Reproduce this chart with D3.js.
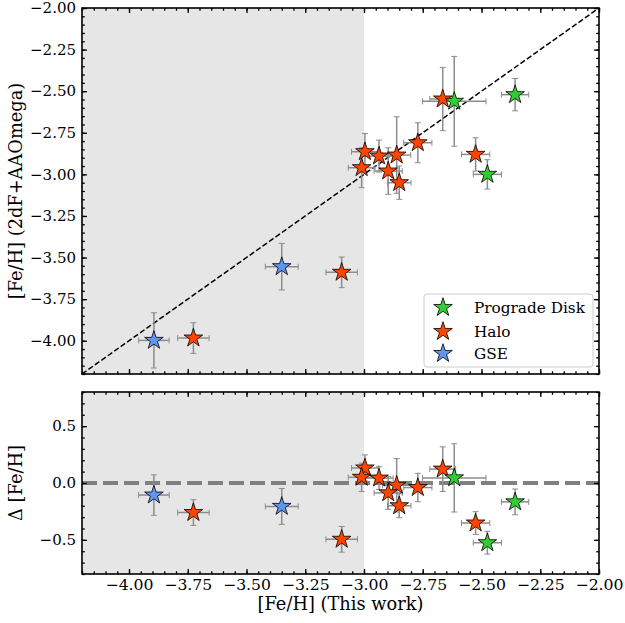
<!DOCTYPE html>
<html>
<head>
<meta charset="utf-8">
<script src="https://cdn.jsdelivr.net/npm/d3@7"></script>
<style>
  body { margin: 0; background: white; }
  text { font-family: "DejaVu Serif", serif; font-size: 15.3px; fill: black; }
</style>
</head>
<body>
<script>
// data
var groups = ["Prograde Disk", "Halo", "GSE"];
var groupColors = ["#32cd32", "#ff4500", "#6495ed"];

var pointGroup = ["Halo","Halo","Halo","Halo","Halo","Halo","Halo","Halo","Halo","Halo","Halo",
                  "GSE","GSE",
                  "Prograde Disk","Prograde Disk","Prograde Disk"];
var xThis   = [-2.665,-2.771,-2.996,-2.936,-2.861,-3.010,-2.897,-2.850,-2.525,-3.726,-3.095, -3.894,-3.350, -2.616,-2.357,-2.475];
var xErr    = [ 0.055, 0.060, 0.057, 0.060, 0.060, 0.057, 0.060, 0.050, 0.060, 0.067, 0.067,  0.065, 0.070,  0.135, 0.058, 0.060];
var yAAO    = [-2.547,-2.810,-2.864,-2.890,-2.884,-2.960,-2.980,-3.050,-2.880,-3.984,-3.589, -3.998,-3.555, -2.561,-2.521,-3.000];
var yErr    = [ 0.190, 0.120, 0.110, 0.096, 0.230, 0.120, 0.140, 0.100, 0.100, 0.092, 0.092,  0.166, 0.140,  0.270, 0.097, 0.088];
var delta   = [ 0.122,-0.040, 0.132, 0.043,-0.020, 0.050,-0.087,-0.200,-0.352,-0.260,-0.495, -0.106,-0.206,  0.045,-0.166,-0.525];
var deltaErr= [ 0.196, 0.125, 0.115, 0.100, 0.235, 0.125, 0.145, 0.105, 0.100, 0.113, 0.113,  0.178, 0.158,  0.300, 0.113, 0.100];

var xTicks = [-4.0,-3.75,-3.5,-3.25,-3.0,-2.75,-2.5,-2.25,-2.0];
var yTopTicks = [-4.0,-3.75,-3.5,-3.25,-3.0,-2.75,-2.5,-2.25,-2.0];
var yBotTicks = [-0.5,0.0,0.5];

var width = 625, height = 623;
var pts = xThis.map((d,i) => i);
// orange and blue first, green on top
var drawOrder = pts.slice().sort((a,b) => (pointGroup[a]=="Prograde Disk") - (pointGroup[b]=="Prograde Disk"));

var color = d3.scaleOrdinal().domain(groups).range(groupColors);

var x = d3.scaleLinear().domain([-4.2, -2.0]).range([82, 599]);
var yTop = d3.scaleLinear().domain([-4.2, -2.0]).range([374, 8]);
var yBot = d3.scaleLinear().domain([-0.8, 0.8]).range([574, 392]);

var svg = d3.select("body").append("svg")
  .attr("width", width)
  .attr("height", height);

// font size that gives a string a wanted length
function sizeFor(str, target) {
  var t = svg.append("text").style("font-size", "20px").text(str);
  var len = t.node().getComputedTextLength();
  t.remove();
  return len > 0 ? 20 * target / len : 15;
}
var xTickFs = sizeFor("\u22123.25", 48);
var yTickFs = sizeFor("\u22122.00", 46);

function starPath(R) {
  var r = R * 0.381966, p = [];
  for (var k = 0; k < 10; k++) {
    var a = -Math.PI/2 + k * Math.PI/5;
    var rr = k % 2 ? r : R;
    p.push([rr*Math.cos(a), rr*Math.sin(a)]);
  }
  return "M" + p.map(q => q[0].toFixed(2) + "," + q[1].toFixed(2)).join("L") + "Z";
}
var star = starPath(9.8);

function panel(yScale, yVals, yErrs) {
  var g = svg.append("g");
  var x0 = x.range()[0], x1 = x.range()[1];
  var y0 = yScale.range()[1], y1 = yScale.range()[0];

  // shaded region
  g.append("rect")
    .attr("x", x(-4.2)).attr("y", y0)
    .attr("width", x(-3.0) - x(-4.2)).attr("height", y1 - y0)
    .attr("fill", "#e6e6e6");

  var marks = g.append("g");

  // error bars
  var eb = marks.append("g").attr("stroke", "#8c8c8c").attr("fill", "none");
  pts.forEach(function(i) {
    var cx = x(xThis[i]), cy = yScale(yVals[i]);
    var xl = x(xThis[i] - xErr[i]), xr = x(xThis[i] + xErr[i]);
    var yt = yScale(yVals[i] + yErrs[i]), yb = yScale(yVals[i] - yErrs[i]);
    eb.append("line").attr("x1", xl).attr("x2", xr).attr("y1", cy).attr("y2", cy).attr("stroke-width", 1.5);
    eb.append("line").attr("x1", cx).attr("x2", cx).attr("y1", yt).attr("y2", yb).attr("stroke-width", 1.5);
    [xl, xr].forEach(v => eb.append("line").attr("x1", v).attr("x2", v).attr("y1", cy-3).attr("y2", cy+3).attr("stroke-width", 1));
    [yt, yb].forEach(v => eb.append("line").attr("x1", cx-3).attr("x2", cx+3).attr("y1", v).attr("y2", v).attr("stroke-width", 1));
  });
  return {g: g, marks: marks, x0: x0, x1: x1, y0: y0, y1: y1};
}

function finish(p, yScale, yVals, yTicks, yMinorStep, yFmt, showX) {
  // stars
  p.marks.append("g").selectAll("path")
    .data(drawOrder)
    .enter()
    .append("path")
    .attr("d", star)
    .attr("transform", i => "translate(" + x(xThis[i]) + "," + yScale(yVals[i]) + ")")
    .attr("fill", i => color(pointGroup[i]))
    .attr("stroke", "black")
    .attr("stroke-width", 0.8);

  var xMinor = d3.range(-4.2, -1.999, 0.05).map(v => +v.toFixed(2));
  var yDom = yScale.domain();
  var yMinor = d3.range(yDom[0], yDom[1] + 1e-6, yMinorStep).map(v => +v.toFixed(2));

  function styleAxis(a, fs) {
    a.select(".domain").remove();
    a.selectAll(".tick line").attr("stroke-width", 1.3);
    a.selectAll("text").style("font-family", "DejaVu Serif").style("font-size", (fs || 14.5) + "px");
  }

  // bottom
  styleAxis(p.g.append("g").attr("transform", "translate(0," + p.y1 + ")")
    .call(d3.axisBottom(x).tickValues(xTicks).tickSize(-5).tickPadding(4.5)
      .tickFormat(showX ? d3.format(".2f") : "")), xTickFs);
  styleAxis(p.g.append("g").attr("transform", "translate(0," + p.y1 + ")")
    .call(d3.axisBottom(x).tickValues(xMinor).tickSize(-2.8).tickFormat("")));
  // top
  styleAxis(p.g.append("g").attr("transform", "translate(0," + p.y0 + ")")
    .call(d3.axisTop(x).tickValues(xTicks).tickSize(-5).tickFormat("")));
  styleAxis(p.g.append("g").attr("transform", "translate(0," + p.y0 + ")")
    .call(d3.axisTop(x).tickValues(xMinor).tickSize(-2.8).tickFormat("")));
  // left
  styleAxis(p.g.append("g").attr("transform", "translate(" + p.x0 + ",0)")
    .call(d3.axisLeft(yScale).tickValues(yTicks).tickSize(-5).tickPadding(6).tickFormat(d3.format(yFmt))), yTickFs);
  styleAxis(p.g.append("g").attr("transform", "translate(" + p.x0 + ",0)")
    .call(d3.axisLeft(yScale).tickValues(yMinor).tickSize(-2.8).tickFormat("")));
  // right
  styleAxis(p.g.append("g").attr("transform", "translate(" + p.x1 + ",0)")
    .call(d3.axisRight(yScale).tickValues(yTicks).tickSize(-5).tickFormat("")));
  styleAxis(p.g.append("g").attr("transform", "translate(" + p.x1 + ",0)")
    .call(d3.axisRight(yScale).tickValues(yMinor).tickSize(-2.8).tickFormat("")));

  // frame
  p.g.append("rect")
    .attr("x", p.x0).attr("y", p.y0)
    .attr("width", p.x1 - p.x0).attr("height", p.y1 - p.y0)
    .attr("fill", "none").attr("stroke", "black").attr("stroke-width", 1.6);
}

// top panel
var topPanel = panel(yTop, yAAO, yErr);
topPanel.marks.insert("line", "g")
  .attr("x1", x(-4.2)).attr("y1", yTop(-4.2))
  .attr("x2", x(-2.0)).attr("y2", yTop(-2.0))
  .attr("stroke", "black").attr("stroke-width", 1.5)
  .attr("stroke-dasharray", "5.5,2.4");
finish(topPanel, yTop, yAAO, yTopTicks, 0.05, ".2f", false);

// legend
var legFs = sizeFor("Prograde Disk", 111);
var lg = topPanel.g.append("g");
lg.append("rect")
  .attr("x", 424).attr("y", 294).attr("width", 169).attr("height", 73)
  .attr("rx", 3).attr("fill", "white").attr("fill-opacity", 0.8)
  .attr("stroke", "#cccccc").attr("stroke-width", 1);
var rows = [307.5, 331.5, 353.5];
groups.forEach(function(gname, k) {
  lg.append("path").attr("d", star)
    .attr("transform", "translate(443," + rows[k] + ")")
    .attr("fill", color(gname)).attr("stroke", "black").attr("stroke-width", 0.8);
  lg.append("text").attr("x", 474).attr("y", rows[k]).attr("dy", "0.35em")
    .style("font-size", legFs + "px").text(gname);
});

// bottom panel
var botPanel = panel(yBot, delta, deltaErr);
botPanel.marks.insert("line", "g")
  .attr("x1", x(-4.2)).attr("y1", yBot(0))
  .attr("x2", x(-2.0)).attr("y2", yBot(0))
  .attr("stroke", "#808080").attr("stroke-width", 4)
  .attr("stroke-dasharray", "15,6");
finish(botPanel, yBot, delta, yBotTicks, 0.1, ".1f", true);

// axis labels
var labFs = sizeFor("[Fe/H] (This work)", 166);
svg.append("text")
  .attr("x", (x.range()[0] + x.range()[1]) / 2).attr("y", 610)
  .attr("text-anchor", "middle")
  .style("font-size", labFs + "px")
  .text("[Fe/H] (This work)");
svg.append("text")
  .attr("transform", "translate(22," + ((yTop.range()[0] + yTop.range()[1]) / 2) + ") rotate(-90)")
  .attr("text-anchor", "middle")
  .style("font-size", labFs + "px")
  .text("[Fe/H] (2dF+AAOmega)");
svg.append("text")
  .attr("transform", "translate(22," + yBot(0) + ") rotate(-90)")
  .attr("text-anchor", "middle")
  .style("font-size", labFs + "px")
  .text("Δ [Fe/H]");
</script>
</body>
</html>
